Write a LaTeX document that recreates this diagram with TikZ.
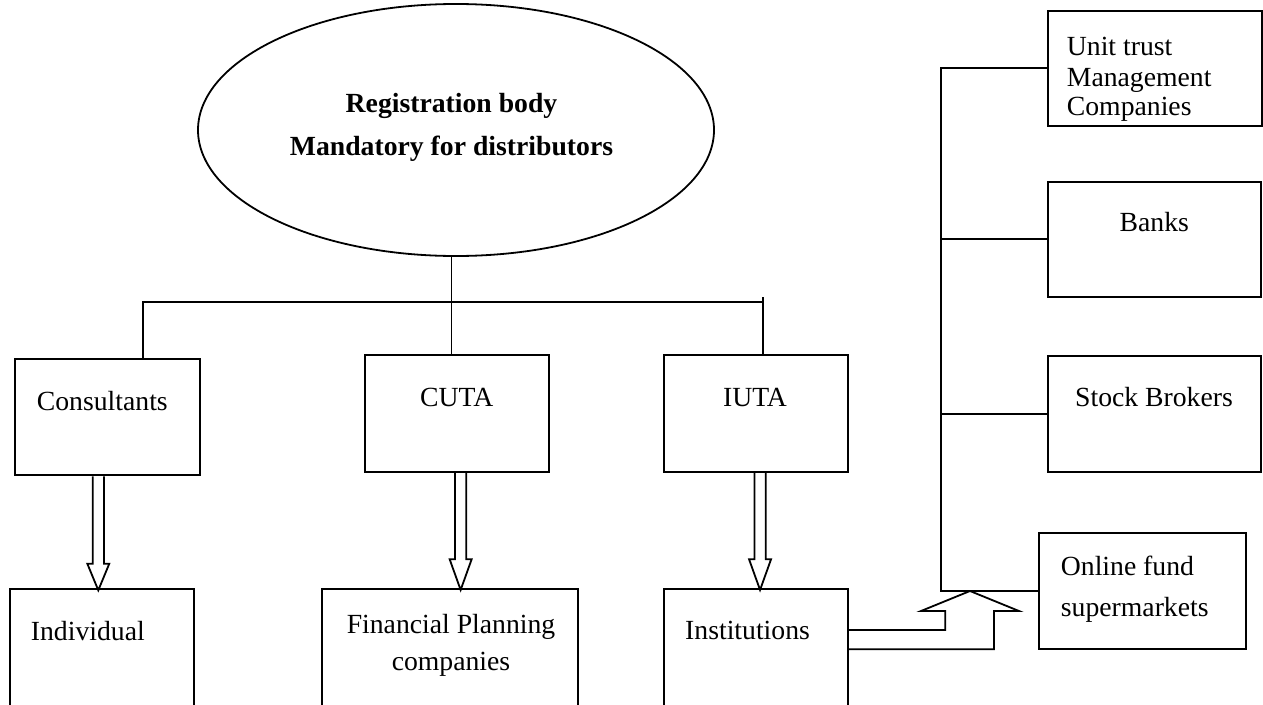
\documentclass[tikz,border=0pt]{standalone}
\usepackage{fontspec}
\setmainfont{Liberation Serif}
\usetikzlibrary{shapes.geometric}
\begin{document}
\begin{tikzpicture}[x=1pt,y=-1pt,
  conn/.style={line width=1.8pt, line join=miter},
  box/.style={draw, line width=1.9pt, rectangle, inner sep=0pt},
  lbl/.style={inner sep=0pt, font=\fontsize{27.7}{30}\selectfont},
  pics/dblock/.style 2 args={code={
    \draw[conn] (-5.6,0) -- (-5.6,#1) -- (-11,#1) -- (0,#2) -- (11,#1) -- (5.6,#1) -- (5.6,0);}}
]
\clip (0,0) rectangle (1263,704);

% registration body
\node[draw, ellipse, line width=1.8pt, minimum width=516pt, minimum height=252pt, inner sep=0pt] (reg) at (456,130) {};
\node[lbl, anchor=base, font=\fontsize{27.7}{30}\selectfont\bfseries] (reg1) at (451.5,112) {Registration body};
\node[lbl, anchor=base, font=\fontsize{27.7}{30}\selectfont\bfseries] (reg2) at (451.5,155) {Mandatory for distributors};

% distributor categories
\node[box, minimum width=185pt, minimum height=116pt] (cons) at (107.5,417.3) {};
\node[box, minimum width=184.3pt, minimum height=116.7pt] (cuta) at (457.15,413.35) {};
\node[box, minimum width=184.3pt, minimum height=116.7pt] (iuta) at (756.15,413.35) {};
\node[lbl, anchor=base west] (tcons) at (36.7,410) {Consultants};
\node[lbl, anchor=base] (tcuta) at (456.7,406.7) {CUTA};
\node[lbl, anchor=base] (tiuta) at (755,406.7) {IUTA};

% clients
\node[box, minimum width=184.3pt, minimum height=130.7pt] (indiv) at (102.15,654.65) {};
\node[box, minimum width=256.6pt, minimum height=131pt] (fpc) at (450,654.5) {};
\node[box, minimum width=183.7pt, minimum height=131pt] (inst) at (755.85,654.5) {};
\node[lbl, anchor=base west] (tindiv) at (30.7,640) {Individual};
\node[lbl, anchor=base] (tfpc1) at (451,633) {Financial Planning};
\node[lbl, anchor=base] (tfpc2) at (451,670) {companies};
\node[lbl, anchor=base west] (tinst) at (685,639.3) {Institutions};

% channels
\node[box, minimum width=214pt, minimum height=115.3pt] (ut) at (1154.7,68.35) {};
\node[box, minimum width=213pt, minimum height=115pt] (banks) at (1154.2,239.2) {};
\node[box, minimum width=213pt, minimum height=116pt] (stock) at (1154.2,413.7) {};
\node[box, minimum width=206.4pt, minimum height=116pt] (online) at (1142.5,591.3) {};
\node[lbl, anchor=base west] (tut1) at (1066.7,55) {Unit trust};
\node[lbl, anchor=base west] (tut2) at (1066.7,86) {Management};
\node[lbl, anchor=base west] (tut3) at (1066.7,115) {Companies};
\node[lbl, anchor=base] (tbanks) at (1154.3,231.7) {Banks};
\node[lbl, anchor=base] (tstock) at (1154,406) {Stock Brokers};
\node[lbl, anchor=base west] (ton1) at (1060.7,575) {Online fund};
\node[lbl, anchor=base west] (ton2) at (1060.7,616.7) {supermarkets};

% tree below the registration body
\coordinate (bar) at (0,301.7);
\coordinate (dc) at ([xshift=35.8pt]cons.north);
\coordinate (di) at ([xshift=6.55pt]iuta.north);
\draw[conn] ([xshift=-4.5pt]reg.south) -- ([xshift=-4.5pt]reg.south |- cuta.north);
\draw[conn] (dc) -- (dc |- bar) -- (di |- bar);
\draw[conn] (di) -- ([yshift=4.4pt]di |- bar);

% hollow arrows to clients
\pic at ([xshift=-9.2pt]cons.south) {dblock={87.4}{114}};
\pic at ([xshift=3.5pt]cuta.south) {dblock={86.6}{117.3}};
\pic at ([xshift=3.9pt]iuta.south) {dblock={86.6}{117.3}};

% channel trunk
\draw[conn] (ut.west) -- ++(-106,0) coordinate (ttop) -- (ttop |- online.west) -- (online.west);
\draw[conn] (banks.west) -- (banks.west -| ttop);
\draw[conn] (stock.west) -- (stock.west -| ttop);

% bent hollow arrow from institutions
\coordinate (r1) at (0,630);
\coordinate (r2) at (0,649.3);
\draw[conn] (inst.east |- r1) -- (945.3,630) -- (945.3,611) -- (921,611) -- (970,591)
  -- (1019,611) -- (994,611) -- (994,649.3) -- (inst.east |- r2);
\end{tikzpicture}
\end{document}
